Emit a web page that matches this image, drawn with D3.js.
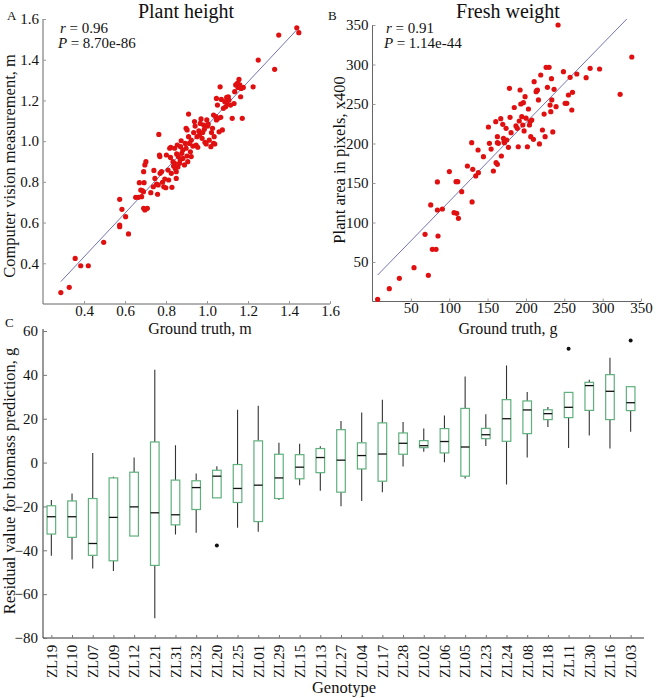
<!DOCTYPE html>
<html><head><meta charset="utf-8">
<script src="https://cdn.jsdelivr.net/npm/d3@7"></script>
<style>body{margin:0;background:#fff}svg{display:block}text{font-family:"Liberation Serif","Times New Roman",serif;fill:#111}</style>
</head><body><svg id="c" width="659" height="698"></svg>
<script>
// ---------- Panel A data: plant height ----------
const aTruth = [0.287,0.328,0.357,0.384,0.421,0.496,0.574,0.574,0.574,0.585,0.603,0.617,0.670,0.684,0.681,0.693,0.652,0.665,0.677,0.690,0.697,0.702,0.691,0.691,0.697,0.709,0.726,0.738,0.741,0.746,0.754,0.759,0.765,0.768,0.771,0.762,0.770,0.778,0.783,0.789,0.794,0.799,0.810,0.813,0.802,0.818,0.823,0.822,0.826,0.829,0.834,0.837,0.842,0.842,0.845,0.850,0.852,0.855,0.858,0.850,0.860,0.866,0.869,0.871,0.874,0.877,0.882,0.890,0.894,0.898,0.902,0.906,0.910,0.914,0.919,0.923,0.882,0.898,0.903,0.910,0.923,0.931,0.935,0.939,0.942,0.947,0.951,0.955,0.960,0.963,0.967,0.971,0.976,0.979,0.984,0.987,0.990,0.996,0.999,1.003,1.006,1.011,1.019,1.022,1.027,1.032,1.035,1.043,1.046,1.051,1.032,1.038,1.046,1.054,1.059,1.064,1.067,1.070,1.075,1.080,1.087,1.091,1.096,1.099,1.104,1.107,1.115,1.123,1.132,1.135,1.140,1.148,1.151,1.156,1.160,1.164,1.172,1.167,1.177,1.225,1.250,1.330,1.350,1.438,1.448];
const aMeasured = [0.256,0.282,0.424,0.388,0.388,0.503,0.714,0.588,0.580,0.665,0.629,0.544,0.796,0.757,0.727,0.796,0.724,0.724,0.760,0.752,0.883,0.899,0.850,0.670,0.662,0.670,0.747,0.776,0.856,0.817,0.789,0.739,1.033,0.932,0.842,0.785,0.924,0.850,0.798,0.776,0.814,0.771,0.858,0.809,0.932,0.965,0.970,0.920,0.842,0.773,0.899,0.878,0.965,0.891,0.866,0.850,0.937,0.981,0.873,0.817,0.924,0.891,0.907,0.973,1.002,0.940,0.915,0.883,0.989,0.965,0.927,0.899,1.022,0.989,0.948,0.924,0.956,1.063,1.055,1.133,1.005,0.976,1.042,1.096,1.074,0.981,1.022,0.970,1.050,1.030,1.087,1.109,1.014,1.042,1.079,1.058,0.994,0.986,1.104,1.074,1.084,1.005,0.973,1.042,1.063,1.128,1.022,1.120,1.210,1.177,0.989,0.986,1.104,1.112,1.046,1.267,1.117,1.205,1.055,1.161,1.194,1.169,1.215,1.182,1.218,1.202,1.177,1.112,1.185,1.243,1.276,1.284,1.264,1.303,1.276,1.218,1.112,1.259,1.264,1.267,1.398,1.353,1.521,1.557,1.533];
const aFitX = [0.287, 1.44];
const aFitY = [0.31, 1.549];
const aTicks = [0.4,0.6,0.8,1.0,1.2,1.4,1.6];
const aStats = ["= 0.96", "= 8.70e-86"];

// ---------- Panel B data: fresh weight ----------
const bTruth = [6.7,21.9,35.0,54.1,72.8,68.5,75.9,78.0,82.8,84.6,84.6,85.4,91.1,100.2,106.3,108.9,111.1,109.8,112.0,116.3,123.7,129.3,130.7,129.8,134.6,138.0,137.6,144.6,151.1,152.4,154.6,157.6,160.7,161.1,162.8,162.8,164.1,162.8,167.2,168.0,169.8,170.7,171.5,172.0,174.1,175.0,177.2,178.5,179.3,180.6,184.8,187.0,188.7,190.0,191.3,192.4,193.3,194.6,195.9,196.7,197.6,198.9,200.2,201.9,203.3,204.6,205.4,206.3,207.6,209.8,210.7,213.3,214.1,215.0,216.3,217.6,219.3,221.5,223.7,225.0,226.3,228.0,230.2,231.5,233.3,233.7,232.4,235.0,236.7,239.3,241.9,248.9,251.1,253.3,255.4,257.6,259.8,260.7,266.3,278.5,283.7,296.0,322.8,338.0];
const bArea = [2.7,16.2,29.3,42.8,33.1,85.0,122.2,66.0,66.0,151.3,115.8,82.9,117.1,164.4,112.4,151.7,151.7,111.6,105.3,139.0,171.5,201.1,167.3,126.0,158.9,163.1,191.8,183.3,220.9,200.2,193.0,165.2,227.6,175.7,173.6,208.6,200.2,201.1,231.4,184.2,224.3,206.5,202.3,201.1,219.2,204.4,195.1,269.8,233.1,213.7,245.6,222.2,219.2,195.9,228.5,267.7,250.0,234.0,223.4,251.7,215.9,259.3,232.1,195.9,243.7,223.4,227.6,208.6,229.7,205.3,278.3,265.6,266.9,267.7,255.1,199.4,286.7,217.1,237.3,208.6,296.4,271.1,296.4,248.7,282.1,255.1,240.3,214.6,268.6,246.6,350.0,290.9,250.9,250.9,261.4,283.8,242.4,264.8,288.0,283.3,295.1,294.3,262.2,309.5];
const bFitX = [6.7, 331.5];
const bFitY = [33.5, 357.6];
const bTicks = [50,100,150,200,250,300,350];
const bStats = ["= 0.91", "= 1.14e-44"];

// ---------- Panel C data: residual boxplots ----------
const genotypes = ["ZL19","ZL10","ZL07","ZL09","ZL12","ZL21","ZL31","ZL32","ZL20","ZL25","ZL01","ZL29","ZL15","ZL13","ZL27","ZL04","ZL17","ZL28","ZL02","ZL06","ZL05","ZL23","ZL24","ZL08","ZL18","ZL11","ZL30","ZL16","ZL03"];
const whiskerLow  = [-42.5,-44.2,-48.3,-49.5,-33.5,-71.0,-32.8,-32.0,-16.1,-29.7,-31.6,-17.1,-10.3,-12.9,-19.9,-17.5,-13.5,-1.8,4.9,0.2,-7.3,7.6,-10.0,2.3,16.2,6.7,12.3,6.4,14.0];
const q1          = [-32.6,-34.1,-42.3,-44.8,-33.5,-46.9,-28.4,-21.4,-16.1,-18.2,-26.9,-16.4,-7.4,-4.6,-13.5,-2.9,-8.5,3.8,6.8,4.4,-6.2,10.9,9.7,13.2,19.6,20.5,23.8,19.6,23.7];
const median      = [-24.7,-24.7,-36.9,-25.0,-20.2,-22.9,-23.8,-11.4,-6.2,-11.8,-10.3,-7.0,-2.1,2.3,1.1,3.2,3.9,8.8,7.7,9.6,7.1,12.7,20.0,24.0,22.3,25.2,35.1,32.5,27.3];
const q3          = [-19.7,-17.5,-16.4,-7.0,-4.4,9.4,-8.0,-8.3,-3.5,-0.9,9.9,3.8,3.6,6.4,15.0,9.0,18.1,13.5,10.0,15.5,24.7,15.6,28.7,28.1,24.1,32.0,36.6,40.1,34.6];
const whiskerHigh = [-17.1,-14.1,4.4,-6.5,2.3,42.3,7.9,-5.0,-1.7,24.1,25.9,9.0,8.6,7.4,19.0,22.8,28.7,18.5,15.5,21.5,39.3,22.0,44.3,32.2,25.3,32.0,37.8,47.8,34.6];
const outlierGenotype = ["ZL20","ZL11","ZL03"];
const outlierValue = [-37.8,51.9,55.7];
const cTicks = [-80,-60,-40,-20,0,20,40,60];

const svg = d3.select("#c");
const axisCol = "#666";
const fmtMinus = d => (d < 0 ? "\u2212" + Math.abs(d) : String(d));

function scatterPanel(o){
  const g = svg.append("g");
  const x = d3.scaleLinear().domain(o.xDom).range(o.xRange);
  const y = d3.scaleLinear().domain(o.yDom).range(o.yRange);
  g.append("line").attr("x1",o.xRange[0]).attr("x2",o.xRange[0]).attr("y1",o.yRange[1]).attr("y2",o.yRange[0]).attr("stroke",axisCol).attr("stroke-width",1);
  g.append("line").attr("x1",o.xRange[0]).attr("x2",o.xRange[1]).attr("y1",o.yRange[0]).attr("y2",o.yRange[0]).attr("stroke",axisCol).attr("stroke-width",1);
  const ax = g.append("g").attr("transform",`translate(0,${o.yRange[0]})`)
    .call(d3.axisBottom(x).tickValues(o.xTicks).tickSize(-3).tickFormat(o.fmt));
  const ay = g.append("g").attr("transform",`translate(${o.xRange[0]},0)`)
    .call(d3.axisLeft(y).tickValues(o.yTicks).tickSize(-3).tickPadding(4).tickFormat(o.fmt));
  [ax,ay].forEach(a=>{a.select(".domain").remove();a.selectAll("line").attr("stroke","#999");
    a.selectAll("text").style("font-family",'"Liberation Serif",serif').style("font-size","15px").attr("fill","#111");});
  ax.selectAll("text").attr("y",1).attr("dy","0.71em");
  g.append("line").attr("x1",x(o.fitX[0])).attr("y1",y(o.fitY[0])).attr("x2",x(o.fitX[1])).attr("y2",y(o.fitY[1]))
    .attr("stroke","#7373b8").attr("stroke-width",1);
  g.selectAll("circle").data(o.xs.map((v,i)=>[v,o.ys[i]])).join("circle")
    .attr("cx",d=>x(d[0])).attr("cy",d=>y(d[1])).attr("r",2.6).attr("fill","#e01010");
  const t1 = g.append("text").attr("x",o.statX).attr("y",33).style("font-size","15px");
  t1.append("tspan").attr("font-style","italic").text("r ");
  t1.append("tspan").text(o.stats[0]);
  const t2 = g.append("text").attr("x",o.statX-2).attr("y",48).style("font-size","15px");
  t2.append("tspan").attr("font-style","italic").text("P ");
  t2.append("tspan").text(o.stats[1]);
  g.append("text").attr("x",o.titleX).attr("y",18).attr("text-anchor","middle").style("font-size","20px").text(o.title);
  g.append("text").attr("x",o.xLabelX).attr("y",334).attr("text-anchor","middle").style("font-size","16px").text(o.xLabel);
  g.append("text").attr("transform",`translate(${o.yLabelX},${o.yLabelY}) rotate(-90)`).attr("text-anchor","middle").style("font-size","16.5px").text(o.yLabel);
  g.append("text").attr("x",o.letterX).attr("y",20).style("font-size","13px").text(o.letter);
}

scatterPanel({xs:aTruth, ys:aMeasured, xDom:[0.2,1.6], yDom:[0.2,1.6], xRange:[43,330], yRange:[304,19],
  xTicks:aTicks, yTicks:aTicks, fmt:d3.format(".1f"), fitX:aFitX, fitY:aFitY, stats:aStats, statX:60,
  title:"Plant height", titleX:186, xLabel:"Ground truth, m", xLabelX:200, yLabel:"Computer vision measurement, m",
  yLabelX:15, yLabelY:166, letter:"A", letterX:7});

scatterPanel({xs:bTruth, ys:bArea, xDom:[0,350], yDom:[0,350], xRange:[372.5,641], yRange:[301.5,25],
  xTicks:bTicks, yTicks:bTicks, fmt:d3.format("d"), fitX:bFitX, fitY:bFitY, stats:bStats, statX:386,
  title:"Fresh weight", titleX:508, xLabel:"Ground truth, g", xLabelX:508, yLabel:"Plant area in pixels, x400",
  yLabelX:345, yLabelY:160, letter:"B", letterX:328});

// ---------- Panel C ----------
(function(){
  const g = svg.append("g");
  const x = d3.scalePoint().domain(genotypes).range([41,641]).padding(0.5);
  const y = d3.scaleLinear().domain([-80,60]).range([638,331]);
  const left = 43, right = 644, bottom = 638;
  g.append("line").attr("x1",left).attr("x2",left).attr("y1",329).attr("y2",bottom).attr("stroke","#777").attr("stroke-width",1.5);
  g.append("line").attr("x1",left).attr("x2",right).attr("y1",bottom).attr("y2",bottom).attr("stroke","#333").attr("stroke-width",1.2);
  const ay = g.append("g").attr("transform",`translate(${left},0)`)
    .call(d3.axisLeft(y).tickValues(cTicks).tickSize(-4).tickPadding(5).tickFormat(fmtMinus));
  const ax = g.append("g").attr("transform",`translate(0,${bottom})`)
    .call(d3.axisBottom(x).tickSize(-3).tickPadding(5));
  [ax,ay].forEach(a=>{a.select(".domain").remove();a.selectAll("line").attr("stroke","#777");
    a.selectAll("text").style("font-family",'"Liberation Serif",serif').style("font-size","15px").attr("fill","#111");});
  ax.selectAll("text").attr("transform","rotate(-90)").attr("text-anchor","end").attr("dx","-0.45em").attr("dy","0.32em").attr("x",0).attr("y",0);
  const rows = genotypes.map((gname,i)=>({g:gname, lo:whiskerLow[i], q1:q1[i], med:median[i], q3:q3[i], hi:whiskerHigh[i]}));
  const hw = 4.3;
  const bx = g.selectAll("g.box").data(rows).join("g").attr("class","box");
  bx.append("line").attr("x1",d=>x(d.g)).attr("x2",d=>x(d.g)).attr("y1",d=>y(d.q3)).attr("y2",d=>y(d.hi)).attr("stroke","#333").attr("stroke-width",1.1);
  bx.append("line").attr("x1",d=>x(d.g)).attr("x2",d=>x(d.g)).attr("y1",d=>y(d.q1)).attr("y2",d=>y(d.lo)).attr("stroke","#333").attr("stroke-width",1.1);
  bx.append("rect").attr("x",d=>x(d.g)-hw).attr("width",hw*2).attr("y",d=>y(d.q3)).attr("height",d=>y(d.q1)-y(d.q3))
    .attr("fill","#fff").attr("stroke","#5fb07d").attr("stroke-width",1.2);
  bx.append("line").attr("x1",d=>x(d.g)-hw).attr("x2",d=>x(d.g)+hw).attr("y1",d=>y(d.med)).attr("y2",d=>y(d.med)).attr("stroke","#111").attr("stroke-width",1.3);
  g.selectAll("circle.out").data(outlierGenotype.map((k,i)=>[k,outlierValue[i]])).join("circle").attr("class","out")
    .attr("cx",d=>x(d[0])).attr("cy",d=>y(d[1])).attr("r",2).attr("fill","#111");
  g.append("text").attr("x",344).attr("y",693).attr("text-anchor","middle").style("font-size","16.5px").text("Genotype");
  g.append("text").attr("transform",`translate(15,481) rotate(-90)`).attr("text-anchor","middle").style("font-size","16.5px").text("Residual value for biomass prediction, g");
  g.append("text").attr("x",5).attr("y",327).style("font-size","13px").text("C");
})();
</script></body></html>
